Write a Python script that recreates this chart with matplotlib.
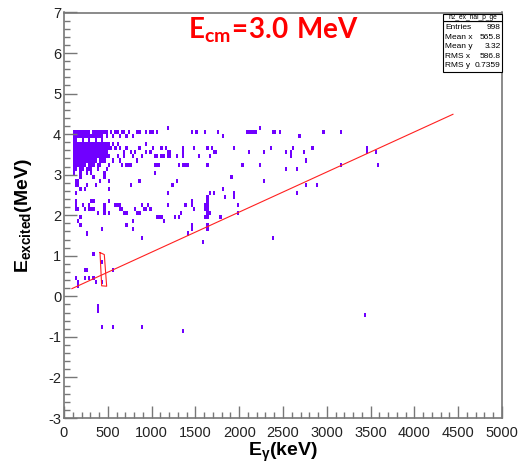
import numpy as np
import matplotlib
matplotlib.use('Agg')
import matplotlib.pyplot as plt
from matplotlib.colors import ListedColormap
from matplotlib.patches import Rectangle
from matplotlib.ticker import MultipleLocator

plt.rcParams['font.family'] = 'Liberation Sans'
plt.rcParams['axes.unicode_minus'] = False
plt.rcParams['mathtext.fontset'] = 'custom'
plt.rcParams['mathtext.rm'] = 'Liberation Sans'
plt.rcParams['mathtext.bf'] = 'Liberation Sans:bold'
plt.rcParams['mathtext.sf'] = 'Lato:bold'

# histogram binning (keV, MeV)
x_edges = np.arange(0, 5001, 25)
y_edges = np.linspace(-3, 7, 101)

# dense block: row low edge (MeV) -> filled runs of E_gamma (keV)
dense_rows = [4.0, 3.9, 3.8, 3.7, 3.6, 3.5, 3.4, 3.3, 3.2, 3.1, 3.0]
dense_runs = [
    [(100, 300), (325, 500)],
    [(100, 450), (475, 500)],
    [(100, 150), (200, 225), (275, 300), (350, 375), (425, 450)],
    [(100, 525)],
    [(100, 525)],
    [(100, 500)],
    [(100, 525)],
    [(100, 375), (400, 475)],
    [(100, 250), (275, 350), (375, 425)],
    [(100, 150), (175, 225), (250, 325), (375, 400)],
    [(100, 125), (175, 200), (300, 325)],
]

# scattered single bins (E_gamma keV, E_excited MeV)
hits_top = [(540, 4.05), (565, 3.95), (590, 4.05), (615, 4.05), (640, 3.95), (665, 4.05),
            (690, 4.05), (715, 3.95), (740, 4.05), (790, 3.95), (845, 4.05), (868, 4.05),
            (948, 4.05), (982, 4.05), (1016, 4.05), (1062, 4.05), (1187, 4.15), (1461, 4.05),
            (1518, 4.05), (1610, 4.05), (1770, 4.05), (1820, 3.95), (2089, 4.05), (2112, 4.05),
            (2135, 4.05), (2158, 4.05), (2192, 4.05), (2226, 4.15), (2375, 4.05), (2409, 4.05),
            (2466, 4.05), (2694, 3.95), (2957, 4.05), (3174, 4.05)]
hits_upper = [(548, 3.69), (582, 3.61), (605, 3.49), (639, 3.64), (685, 3.49), (696, 3.56),
              (753, 3.51), (753, 3.27), (799, 3.49), (868, 3.64), (890, 3.49), (948, 3.51),
              (982, 3.51), (1027, 3.44), (1084, 3.27), (1107, 3.49), (514, 3.25), (662, 3.27),
              (742, 3.2), (1119, 3.69), (1153, 3.61), (1073, 3.47), (1130, 3.47), (1175, 3.45),
              (1200, 3.45), (1175, 3.55), (1200, 3.55), (1279, 3.47), (1370, 3.65), (1370, 3.55),
              (1370, 3.45), (1484, 3.61), (1530, 3.47), (1632, 3.69), (1690, 3.61), (1700, 3.51),
              (1725, 3.51), (1667, 3.47), (1941, 3.69), (2112, 3.51), (1062, 3.2), (1313, 3.2),
              (1370, 3.27), (1404, 3.27), (1385, 3.2), (1644, 3.2), (2032, 3.2), (1039, 3.07),
              (2283, 3.59), (2352, 3.69), (2534, 3.59), (2591, 3.45), (2591, 3.55), (2614, 3.69),
              (2740, 3.54), (2751, 3.37), (2831, 3.69), (3470, 3.65), (3470, 3.55), (3550, 3.59),
              (2226, 3.2), (2249, 3.29), (2534, 3.12), (2671, 3.12), (3174, 3.29), (3585, 3.2),
              (468, 3.05), (491, 3.12), (719, 3.2), (1027, 3.2), (1027, 3.07),
              (560, 3.75), (610, 3.75), (720, 3.65), (820, 3.6), (560, 3.35), (630, 3.4),
              (830, 3.35), (930, 3.75), (1005, 3.65)]
hits_left = [(126, 2.87), (171, 2.87), (183, 2.95), (263, 3.02), (342, 2.95), (400, 2.87),
             (468, 2.92), (514, 2.82), (354, 2.7), (856, 2.87), (753, 2.79), (514, 2.68),
             (126, 2.7), (160, 2.7), (183, 2.63), (240, 2.63), (263, 2.7), (126, 2.5),
             (320, 2.38), (342, 2.33), (148, 2.38), (514, 2.33), (582, 2.3), (126, 2.26),
             (148, 2.19), (205, 2.2), (240, 2.19), (285, 2.26), (320, 2.19), (468, 2.19),
             (468, 2.26), (605, 2.2), (639, 2.19), (685, 2.06), (811, 2.19), (890, 2.2),
             (913, 2.13), (970, 2.2), (982, 2.13), (126, 2.13), (171, 2.13), (240, 2.13),
             (285, 2.13), (342, 2.13), (377, 2.01), (457, 2.1), (457, 2.01), (514, 2.08),
             (628, 2.2), (662, 2.13), (719, 2.01), (833, 2.08), (868, 2.08), (948, 2.13),
             (1096, 1.94), (171, 1.89), (183, 1.94), (183, 1.77), (434, 1.66), (788, 1.84),
             (719, 1.77), (776, 1.66), (274, 1.5), (890, 1.42)]
hits_middle = [(1244, 2.7), (1176, 2.58), (1655, 2.58), (1712, 2.58), (1815, 2.63), (1826, 2.46),
               (1929, 2.45), (1929, 2.55), (1393, 2.3), (1473, 2.33), (1450, 2.2), (1484, 2.16),
               (1187, 2.2), (1336, 2.08), (1267, 1.99), (1301, 1.91), (1107, 1.99), (1073, 1.91),
               (1142, 1.84), (1610, 2.25), (1640, 2.35), (1640, 2.25), (1615, 2.15), (1640, 2.15),
               (1665, 2.05), (1640, 2.05), (1615, 1.95), (1640, 1.95), (1640, 2.45), (1632, 1.71),
               (1450, 1.74), (1473, 1.66), (1416, 1.6), (1575, 1.35), (1792, 1.99), (1975, 2.08),
               (1986, 2.23), (2375, 1.42), (2671, 2.55), (2774, 2.7), (2888, 2.8), (1918, 2.95),
               (2283, 2.87), (1290, 2.87), (1404, 1.6), (1473, 1.64), (1632, 1.64)]
hits_low = [(331, 1.1), (445, 0.85), (263, 0.61), (240, 0.61), (571, 0.61), (137, 0.49),
            (137, 0.41), (228, 0.49), (228, 0.41), (297, 0.46), (331, 0.46), (160, 0.36),
            (171, 0.29), (354, 0.36), (434, 0.36), (388, -0.35), (388, -0.25), (434, -0.75),
            (571, -0.75), (890, -0.75), (1370, -0.85), (3436, -0.43)]

# fitted line and graphical cut
line_x = [90, 4440]
line_y = [0.19, 4.49]
cut_x = [411, 460, 487, 430, 411]
cut_y = [1.08, 1.03, 0.25, 0.26, 1.08]

stat_names = ['Entries', 'Mean x', 'Mean y', 'RMS x', 'RMS y']
stat_values = ['998', '565.8', '3.32', '586.8', '0.7359']

# collect all filled bins
xs, ys = [], []
for y0, runs in zip(dense_rows, dense_runs):
    for a, b in runs:
        centers = np.arange(a + 12.5, b, 25)
        xs.extend(centers)
        ys.extend([y0 + 0.05] * len(centers))
for group in (hits_top, hits_upper, hits_left, hits_middle, hits_low):
    for x, y in group:
        xs.append(x)
        ys.append(y)

H, _, _ = np.histogram2d(xs, ys, bins=[x_edges, y_edges])
H = np.ma.masked_where(H == 0, H)

fig = plt.figure(figsize=(5.2, 4.63), dpi=100)
ax = fig.add_axes([64 / 520, 1 - 418 / 463, 438 / 520, 405.5 / 463])

ax.pcolormesh(x_edges, y_edges, H.T, cmap=ListedColormap(['#7000ff']),
              shading='flat', antialiased=False)
ax.plot(line_x, line_y, color='#ff2020', lw=0.8)
ax.plot(cut_x, cut_y, color='#ff2020', lw=0.8)

ax.set_xlim(0, 5000)
ax.set_ylim(-3, 7)
ax.xaxis.set_major_locator(MultipleLocator(500))
ax.xaxis.set_minor_locator(MultipleLocator(100))
ax.yaxis.set_major_locator(MultipleLocator(1))
ax.yaxis.set_minor_locator(MultipleLocator(0.2))
ax.tick_params(which='both', direction='in', color='#777777', labelsize=10.5,
               labelcolor='#222222')
ax.tick_params(which='major', length=9, width=1)
ax.tick_params(which='minor', length=4.5, width=1)
ax.tick_params(axis='x', pad=6)
ax.tick_params(axis='y', pad=2)
for s in ax.spines.values():
    s.set_color('#777777')
    s.set_linewidth(1.2)

ax.set_xlabel(r'$\mathbf{E_{γ}(keV)}$', fontsize=14, labelpad=0)
ax.set_ylabel(r'$\mathbf{E_{excited}(MeV)}$', fontsize=14, labelpad=10)

fig.text(273 / 520, 1 - 30 / 463, r'$\mathsf{E_{cm}\!=\!3.0\ MeV}$', color='#ff0000',
         fontsize=20, ha='center', va='center')

# stats box
def fx(px):
    return px / 520

def fy(py):
    return 1 - py / 463

fig.patches.append(Rectangle((fx(443), fy(72)), fx(502) - fx(443), fy(21) - fy(72),
                             transform=fig.transFigure, fc='white', ec='black', lw=0.8))
fig.patches.append(Rectangle((fx(443), fy(21)), fx(502) - fx(443), fy(14) - fy(21),
                             transform=fig.transFigure, fc='white', ec='black', lw=0.8))
fig.text(fx(472.5), fy(17.5), 'h2_ex_nai_p_ge', fontsize=4.8, ha='center', va='center')
for i, (name, val) in enumerate(zip(stat_names, stat_values)):
    yy = fy(27.5 + 9.6 * i)
    fig.text(fx(445), yy, name, fontsize=6, ha='left', va='center')
    fig.text(fx(500.5), yy, val, fontsize=6, ha='right', va='center')

fig.savefig('out.png', dpi=100)
